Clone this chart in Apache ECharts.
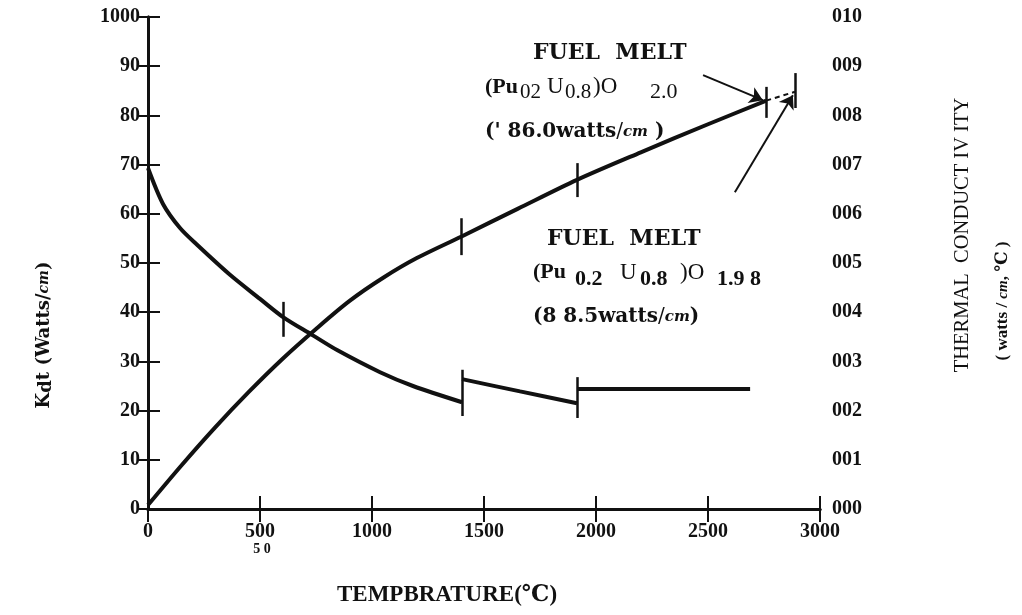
<!DOCTYPE html>
<html>
<head>
<meta charset="utf-8">
<title>Kdt and thermal conductivity vs temperature</title>
<script src="https://cdn.jsdelivr.net/npm/echarts@6/dist/echarts.min.js"></script>
<style>
  html, body { margin: 0; padding: 0; background: #fff; }
  #chart { width: 1022px; height: 615px; }
</style>
</head>
<body>
<div id="chart"></div>
<script>
// ---- tick labels ----
const temperatureTickLabels = ['0', '500', '1000', '1500', '2000', '2500', '3000'];
const kdtTickLabels = ['0', '10', '20', '30', '40', '50', '60', '70', '80', '90', '1000'];
const conductivityTickLabels = ['000', '001', '002', '003', '004', '005', '006', '007', '008', '009', '010'];

// ---- integral of conductivity, Kdt (watts/cm) vs temperature (°C) ----
const kdtCurve = [
  [0, 0.8], [150, 8.9], [300, 16.6], [450, 23.8], [600, 30.5], [750, 36.6],
  [900, 42.3], [1050, 47.0], [1200, 51.0], [1400, 55.4], [1650, 61.0],
  [1915, 66.9], [2200, 72.5], [2500, 78.2], [2760, 83.0]
];
const kdtMeltExtension = [[2760, 83.0], [2888, 84.8]];

// ---- thermal conductivity (watts/cm·°C) vs temperature (°C) ----
const conductivityLow = [
  [0, 0.00693], [67, 0.00620], [143, 0.00571], [219, 0.00537], [366, 0.00476],
  [500, 0.00427], [603, 0.00390], [732, 0.00354], [844, 0.00323],
  [1036, 0.00278], [1183, 0.00250], [1402, 0.00217]
];
const conductivityMid = [[1402, 0.00264], [1661, 0.00239], [1915, 0.00215]];
const conductivityHigh = [[1915, 0.00244], [2688, 0.00244]];

// ---- short vertical marks crossing the curves: [temperature, low, high] ----
const kdtMarks = [[1400, 51.6, 59.1], [1915, 63.4, 70.3], [2760, 79.5, 85.8], [2888, 81.5, 88.6]];
const conductivityMarks = [[603, 0.00350, 0.00421], [1402, 0.00189, 0.00283], [1915, 0.00185, 0.00268]];

// ---- annotation arrows in Kdt units: [fromT, fromKdt, toT, toKdt] ----
const meltArrows = [[2478, 88.2, 2745, 83.1], [2620, 64.4, 2879, 84.1]];

const SERIF = "'Liberation Serif', 'DejaVu Serif', serif";
const WIDE = "'DejaVu Serif', 'Liberation Serif', serif";
const INK = '#111';

function verticalMarks(list) {
  return list.map(m => [{ coord: [m[0], m[1]] }, { coord: [m[0], m[2]] }]);
}

// rich-text style helper for the formula lines
function tok(family, size, weight, width, padBottom) {
  const s = { fill: INK, fontFamily: family, fontSize: size, fontWeight: weight };
  if (width) s.width = width;
  if (padBottom) s.padding = [0, 0, padBottom, 0];
  return s;
}

const chart = echarts.init(document.getElementById('chart'), null, { renderer: 'canvas' });

const axisLabelStyle = { color: INK, fontFamily: SERIF, fontWeight: 'bold', fontSize: 20 };

const option = {
  backgroundColor: '#fff',
  animation: false,
  grid: { left: 148, right: 202, top: 17, bottom: 106, containLabel: false },
  xAxis: [
    {
      type: 'value', min: 0, max: 3000, interval: 500, position: 'bottom',
      axisLine: { show: true, lineStyle: { color: INK, width: 3 } },
      axisTick: { show: true, inside: true, length: 13, lineStyle: { color: INK, width: 2 } },
      axisLabel: {
        ...axisLabelStyle, margin: 13,
        formatter: v => temperatureTickLabels[Math.round(v / 500)]
      },
      splitLine: { show: false }
    },
    {
      type: 'value', min: 0, max: 3000, interval: 500, position: 'top',
      axisLine: { show: true, lineStyle: { color: INK, width: 3 } },
      axisTick: { show: true, inside: true, length: 13, lineStyle: { color: INK, width: 2 } },
      axisLabel: { show: false },
      splitLine: { show: false }
    }
  ],
  yAxis: [
    {
      type: 'value', min: 0, max: 100, interval: 10, position: 'left',
      axisLine: { show: true, lineStyle: { color: INK, width: 3 } },
      axisTick: { show: true, inside: true, length: 12, lineStyle: { color: INK, width: 2 } },
      axisLabel: {
        ...axisLabelStyle, margin: 8,
        formatter: v => kdtTickLabels[Math.round(v / 10)]
      },
      splitLine: { show: false }
    },
    {
      type: 'value', min: 0, max: 0.010, interval: 0.001, position: 'right',
      axisLine: { show: true, lineStyle: { color: INK, width: 3 } },
      axisTick: { show: true, inside: true, length: 11, lineStyle: { color: INK, width: 2 } },
      axisLabel: {
        ...axisLabelStyle, margin: 12,
        formatter: v => conductivityTickLabels[Math.round(v / 0.001)]
      },
      splitLine: { show: false }
    }
  ],
  series: [
    {
      name: 'Kdt', type: 'line', xAxisIndex: 0, yAxisIndex: 0,
      data: kdtCurve, symbol: 'none', smooth: 0.3,
      lineStyle: { color: INK, width: 4 }, silent: true,
      markLine: {
        silent: true, animation: false, symbol: ['none', 'none'],
        label: { show: false },
        lineStyle: { color: INK, width: 2.5, type: 'solid' },
        emphasis: { disabled: true },
        data: verticalMarks(kdtMarks)
      }
    },
    {
      name: 'Kdt to melt', type: 'line', xAxisIndex: 0, yAxisIndex: 0,
      data: kdtMeltExtension, symbol: 'none',
      lineStyle: { color: INK, width: 2, type: [5, 4] }, silent: true,
      markLine: {
        silent: true, animation: false, symbol: ['none', 'arrow'], symbolSize: 13,
        label: { show: false },
        lineStyle: { color: INK, width: 2, type: 'solid' },
        emphasis: { disabled: true },
        data: meltArrows.map(a => [{ coord: [a[0], a[1]] }, { coord: [a[2], a[3]] }])
      }
    },
    {
      name: 'Conductivity', type: 'line', xAxisIndex: 0, yAxisIndex: 1,
      data: conductivityLow, symbol: 'none', smooth: 0.3,
      lineStyle: { color: INK, width: 4 }, silent: true,
      markLine: {
        silent: true, animation: false, symbol: ['none', 'none'],
        label: { show: false },
        lineStyle: { color: INK, width: 2.5, type: 'solid' },
        emphasis: { disabled: true },
        data: verticalMarks(conductivityMarks)
      }
    },
    {
      name: 'Conductivity 2', type: 'line', xAxisIndex: 0, yAxisIndex: 1,
      data: conductivityMid, symbol: 'none', smooth: 0.3,
      lineStyle: { color: INK, width: 4 }, silent: true
    },
    {
      name: 'Conductivity 3', type: 'line', xAxisIndex: 0, yAxisIndex: 1,
      data: conductivityHigh, symbol: 'none',
      lineStyle: { color: INK, width: 4 }, silent: true
    }
  ],
  graphic: [
    // axis titles
    {
      type: 'text', x: 44, y: 335, rotation: Math.PI / 2, silent: true,
      style: {
        text: 'K{d|d}t (Watts/{i|cm})', align: 'center', verticalAlign: 'middle',
        fill: INK, font: 'bold 18px ' + WIDE,
        rich: {
          d: { fill: INK, fontFamily: WIDE, fontWeight: 'bold', fontSize: 18, padding: [4, 0, 0, 0] },
          i: { fill: INK, fontFamily: WIDE, fontWeight: 'bold', fontStyle: 'italic', fontSize: 14 }
        }
      }
    },
    {
      type: 'text', x: 963, y: 235, rotation: Math.PI / 2, silent: true,
      style: {
        text: 'THERMAL  CONDUCT IV ITY', align: 'center', verticalAlign: 'middle',
        fill: INK, font: '20.5px ' + SERIF
      }
    },
    {
      type: 'text', x: 1003, y: 301, rotation: Math.PI / 2, silent: true,
      style: {
        text: '( watts / {i|cm}, ℃ )', align: 'center', verticalAlign: 'middle',
        fill: INK, font: 'bold 17px ' + SERIF,
        rich: { i: { fill: INK, fontFamily: SERIF, fontWeight: 'bold', fontStyle: 'italic', fontSize: 15 } }
      }
    },
    {
      type: 'text', x: 447, y: 595, silent: true,
      style: {
        text: 'TEMPBRATURE(℃)', align: 'center', verticalAlign: 'middle',
        fill: INK, font: 'bold 23px ' + SERIF
      }
    },
    {
      type: 'text', x: 262, y: 549, silent: true,
      style: { text: '5 0', align: 'center', verticalAlign: 'middle', fill: INK, font: 'bold 14px ' + SERIF }
    },
    // upper fuel melt note
    {
      type: 'text', x: 533, y: 53, silent: true,
      style: { text: 'FUEL  MELT', align: 'left', verticalAlign: 'middle', fill: INK, font: 'bold 22px ' + WIDE }
    },
    {
      type: 'text', x: 485, y: 92, silent: true,
      style: {
        text: '{a|(Pu}{b|02}{c|U}{d|0.8}{e|)O}{f|2.0}', align: 'left', verticalAlign: 'middle',
        rich: {
          a: tok(SERIF, 22, 'bold', 35, 10),
          b: tok(SERIF, 21, 'normal', 27),
          c: tok(SERIF, 23, 'normal', 18, 10),
          d: tok(SERIF, 21, 'normal', 28),
          e: tok(SERIF, 23, 'normal', 57, 10),
          f: tok(SERIF, 22, 'normal', 36)
        }
      }
    },
    {
      type: 'text', x: 485, y: 132, silent: true,
      style: {
        text: "(' 86.0watts{s|/}{i|cm} )", align: 'left', verticalAlign: 'middle',
        fill: INK, font: 'bold 20px ' + WIDE,
        rich: {
          s: { fill: INK, fontFamily: WIDE, fontSize: 20, fontWeight: 'normal' },
          i: { fill: INK, fontFamily: WIDE, fontWeight: 'bold', fontStyle: 'italic', fontSize: 15 }
        }
      }
    },
    // lower fuel melt note
    {
      type: 'text', x: 547, y: 239, silent: true,
      style: { text: 'FUEL  MELT', align: 'left', verticalAlign: 'middle', fill: INK, font: 'bold 22px ' + WIDE }
    },
    {
      type: 'text', x: 533, y: 279, silent: true,
      style: {
        text: '{a|(Pu}{b|0.2}{c|U}{d|0.8}{e|)O}{f|1.9 8}', align: 'left', verticalAlign: 'middle',
        rich: {
          a: tok(SERIF, 22, 'bold', 42, 13),
          b: tok(SERIF, 22, 'bold', 45),
          c: tok(SERIF, 23, 'normal', 20, 13),
          d: tok(SERIF, 22, 'bold', 40),
          e: tok(SERIF, 23, 'normal', 37, 13),
          f: tok(SERIF, 22, 'bold', 45)
        }
      }
    },
    {
      type: 'text', x: 533, y: 317, silent: true,
      style: {
        text: '(8 8.5watts{s|/}{i|cm})', align: 'left', verticalAlign: 'middle',
        fill: INK, font: 'bold 20px ' + WIDE,
        rich: {
          s: { fill: INK, fontFamily: WIDE, fontSize: 20, fontWeight: 'normal' },
          i: { fill: INK, fontFamily: WIDE, fontWeight: 'bold', fontStyle: 'italic', fontSize: 15 }
        }
      }
    }
  ]
};

chart.setOption(option);
</script>
</body>
</html>
